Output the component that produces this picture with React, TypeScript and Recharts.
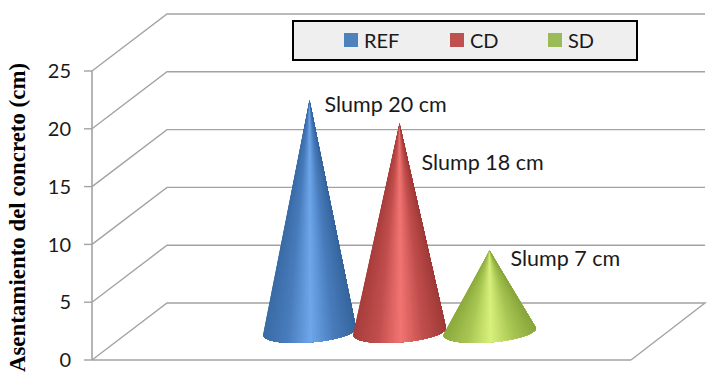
import { Bar, BarChart, CartesianGrid, Label, Legend, XAxis, YAxis } from 'recharts';

const seriesNames = ['REF', 'CD', 'SD'];
const slumpValues = [20, 18, 7];
const slumpLabels = ['Slump 20 cm', 'Slump 18 cm', 'Slump 7 cm'];
const yTicks = [0, 5, 10, 15, 20, 25];
const swatchColors = ['#4f81bd', '#c0504d', '#9bbb59'];
// edge, shoulder, highlight, shoulder, edge
const shades = [
  [[58, 108, 166], [72, 124, 188], [110, 166, 234], [72, 124, 188], [54, 101, 156]],
  [[168, 62, 60], [192, 78, 76], [242, 116, 114], [192, 78, 76], [160, 58, 56]],
  [[141, 171, 62], [168, 198, 83], [216, 240, 124], [168, 198, 83], [136, 166, 60]],
];

const row: Record<string, string | number> = { name: 'Slump' };
seriesNames.forEach((s, i) => {
  row[s] = slumpValues[i];
});
const data = [row];

// the back wall sits up and to the right of the front plane
const DEPTH_X = 75;
const DEPTH_Y = 57;
const GRID = '#a3a3a3';
const CONE_SLICES = 64;

const labelOffsets = [
  { dx: 15, dy: 5 },
  { dx: 22, dy: 40 },
  { dx: 21, dy: 8 },
];

function shadeAt(i: number, u: number) {
  const stops = shades[i];
  const pos = Math.min(u, 0.9999) * (stops.length - 1);
  const k = Math.floor(pos);
  const t = pos - k;
  const c = stops[k].map((v, n) => Math.round(v + (stops[k + 1][n] - v) * t));
  return `rgb(${c.join(',')})`;
}

// layers from the tip, each one covering everything to its right, so the shading
// converges on the tip like a real cone and no seams show between slices
function Cone(props: any, i: number) {
  const { x, y, width, height } = props;
  const cx = x + width / 2 + DEPTH_X / 2;
  const tipY = y - DEPTH_Y / 2;
  const baseY = y + height - DEPTH_Y / 2;
  const rx = width / 2 + 1.5;
  const ry = 11;
  const tilt = 3.5;
  const rim: number[][] = [];
  for (let n = 0; n <= CONE_SLICES; n++) {
    const c = Math.cos(Math.PI - (n / CONE_SLICES) * Math.PI);
    const s = Math.sin(Math.PI - (n / CONE_SLICES) * Math.PI);
    rim.push([cx + rx * c, baseY - tilt * c + ry * s, (1 + c) / 2]);
  }
  const layers = [];
  for (let n = 0; n < CONE_SLICES; n++) {
    const pts = rim.slice(n).map((p) => `${p[0]},${p[1]}`).join(' ');
    layers.push(<polygon key={n} points={`${cx},${tipY} ${pts}`} fill={shadeAt(i, rim[n][2])} />);
  }
  return <g>{layers}</g>;
}

function WallLine(props: any) {
  const { x1, x2, y1, index } = props;
  const isFloor = y1 > 350;
  const pts = [
    [x1, y1],
    [x1 + DEPTH_X, y1 - DEPTH_Y],
    [x2 + DEPTH_X - 1, y1 - DEPTH_Y],
  ];
  if (isFloor) pts.push([x2, y1]);
  return (
    <polyline
      key={`wall-${index}`}
      points={pts.map((p) => p.join(',')).join(' ')}
      fill="none"
      stroke={GRID}
      strokeWidth={1.4}
    />
  );
}

function SlumpLabel(props: any, i: number) {
  const { x, y, width } = props;
  const off = labelOffsets[i];
  return (
    <text
      x={x + width / 2 + DEPTH_X / 2 + off.dx}
      y={y - DEPTH_Y / 2 + off.dy + 7}
      fontFamily="Lato"
      fontSize={21.5}
      fill="#1a1a1a"
    >
      {slumpLabels[i]}
    </text>
  );
}

function LegendBox() {
  const positions = [344, 450, 548];
  return (
    <div
      style={{
        position: 'relative',
        width: 342,
        height: 37,
        background: '#efefef',
        border: '2px solid #000',
        fontFamily: 'Lato',
        fontSize: 20,
        color: '#1a1a1a',
      }}
    >
      {seriesNames.map((s, i) => (
        <span key={s}>
          <span
            style={{
              position: 'absolute',
              left: positions[i] - 294,
              top: 11,
              width: 14,
              height: 14,
              background: swatchColors[i],
            }}
          />
          <span style={{ position: 'absolute', left: positions[i] - 294 + 20, top: 6 }}>{s}</span>
        </span>
      ))}
    </div>
  );
}

export default function App() {
  return (
    <div style={{ position: 'absolute', left: 0, top: 0 }}>
      <BarChart
        width={715}
        height={377}
        data={data}
        margin={{ top: 71, right: 84, bottom: 16, left: 0 }}
        barGap={0}
      >
        <CartesianGrid vertical={false} horizontal={WallLine} />
        <XAxis dataKey="name" height={1} tick={false} tickLine={false} axisLine={{ stroke: GRID, strokeWidth: 1.4 }} />
        <YAxis
          width={92}
          domain={[0, 25]}
          ticks={yTicks}
          interval={0}
          tickSize={8}
          tickMargin={13}
          axisLine={{ stroke: GRID, strokeWidth: 1.6 }}
          tickLine={{ stroke: GRID, strokeWidth: 1.4 }}
          tick={{ fontFamily: 'Lato', fontSize: 20, fill: '#1a1a1a' }}
        >
          <Label
            value="Asentamiento del concreto (cm)"
            angle={-90}
            position="insideLeft"
            offset={17}
            dy={2}
            style={{ fontFamily: 'Liberation Serif', fontWeight: 'bold', fontSize: 22.9, fill: '#000', textAnchor: 'middle' }}
          />
        </YAxis>
        <Legend
          layout="horizontal"
          verticalAlign="middle"
          content={LegendBox}
          wrapperStyle={{ left: 292, top: 20, width: 346, height: 41 }}
        />
        {seriesNames.map((s, i) => (
          <Bar
            key={s}
            dataKey={s}
            barSize={90}
            fill={swatchColors[i]}
            isAnimationActive={false}
            shape={(p: any) => Cone(p, i)}
            label={(p: any) => SlumpLabel(p, i)}
          />
        ))}
      </BarChart>
    </div>
  );
}
